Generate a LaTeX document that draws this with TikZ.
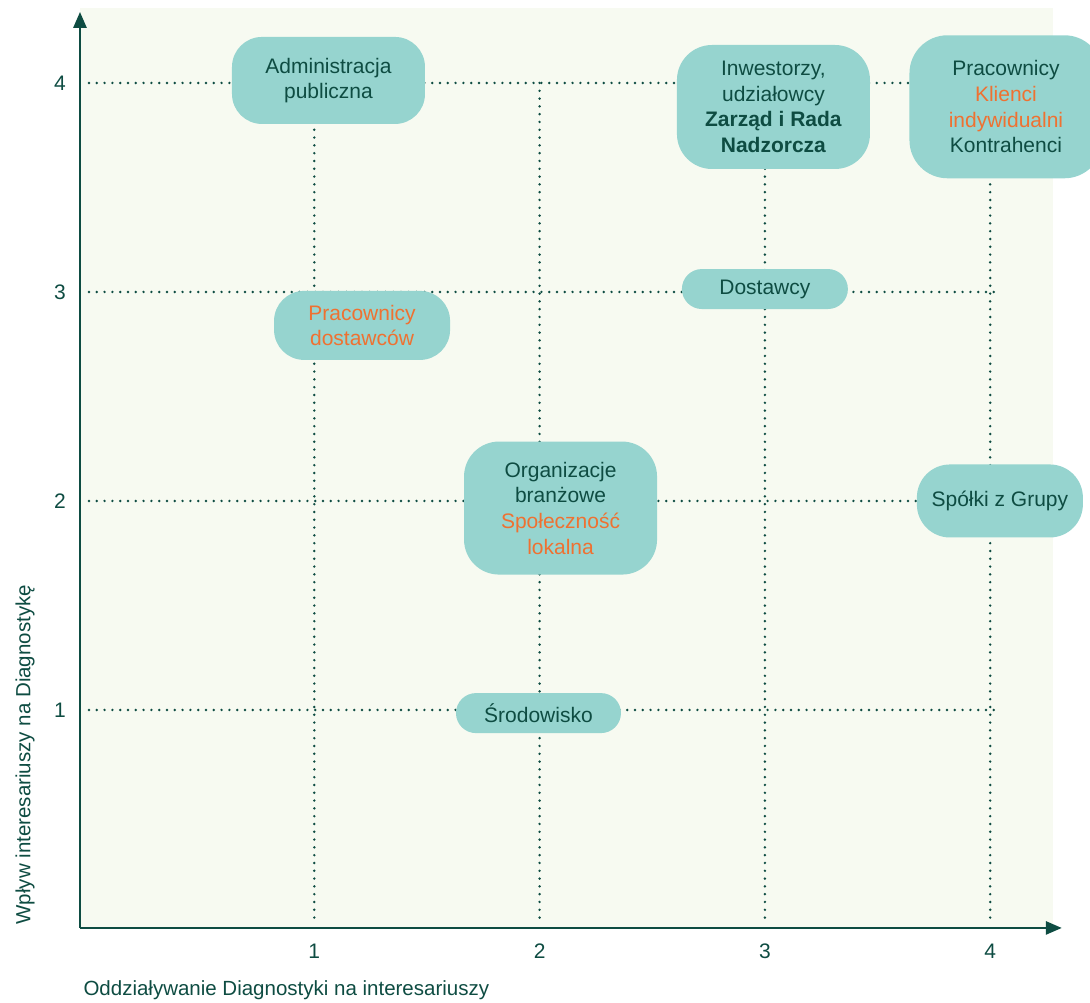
\documentclass[tikz,border=0pt]{standalone}
\usepackage{fontspec}
\setmainfont{Liberation Sans}
\usetikzlibrary{arrows.meta}

\definecolor{ciemny}{HTML}{0E4C42}
\definecolor{pomar}{HTML}{EF7131}
\definecolor{mieta}{HTML}{96D4CF}
\definecolor{tlo}{HTML}{F7FAF1}

\begin{document}
\begin{tikzpicture}[x=225.3pt,y=209pt,
  kropki/.style={ciemny,line width=2.7pt,line cap=round,dash pattern=on 0pt off 7.8pt},
  os/.style={ciemny,line width=2.6pt,-{Triangle[width=13pt,length=16pt]}},
  pole/.style={fill=mieta,text=ciemny,align=center,inner sep=0pt,font=\fontsize{21}{25.7}\selectfont},
  liczba/.style={text=ciemny,font=\fontsize{21}{25}\selectfont},
  opis/.style={text=ciemny,font=\fontsize{20.5}{25}\selectfont}]
\useasboundingbox (-0.395,-0.402) rectangle (4.443,4.397);
\fill[tlo] (-0.04,-0.043) rectangle (4.279,4.359);

% siatka
\foreach \i in {1,...,4} {
  \draw[kropki] (\i,4) -- (\i,-0.01);
  \draw[kropki] (0,\i) -- (4.02,\i);
}

% osie
\coordinate (poczatek) at (-0.04,-0.043);
\coordinate (gora) at (-0.04,4.34);
\coordinate (prawo) at (4.318,-0.043);
\draw[os] (poczatek) -- (gora);
\draw[os] (poczatek) -- (prawo);

\foreach \i in {1,...,4} {
  \node[liczba] (x\i) at (\i,-0.153) {\i};
  \node[liczba] (y\i) at (-0.129,\i) {\i};
}

\node[opis,anchor=west] (osx) at (-0.04,-0.340) {Oddziaływanie Diagnostyki na interesariuszy};
\node[opis,anchor=west,rotate=90] (osy) at (-0.284,-0.043) {Wpływ interesariuszy na Diagnostykę};

% interesariusze
\node[pole,minimum width=193pt,minimum height=87pt,rounded corners=30pt] (admin) at (1.063,4.012) {Administracja\\publiczna};
\node[pole,minimum width=193pt,minimum height=124pt,rounded corners=35pt] (inwest) at (3.038,3.885) {Inwestorzy,\\udziałowcy\\\textbf{Zarząd i Rada}\\\textbf{Nadzorcza}};
\node[pole,minimum width=193pt,minimum height=143pt,rounded corners=38pt] (klienci) at (4.070,3.886) {Pracownicy\\\textcolor{pomar}{Klienci}\\\textcolor{pomar}{indywidualni}\\Kontrahenci};
\node[pole,minimum width=166pt,minimum height=40pt,rounded corners=20pt] (dostawcy) at (3.000,3.014) {Dostawcy};
\node[pole,minimum width=176pt,minimum height=69pt,rounded corners=30pt] (pracdost) at (1.212,2.840) {\textcolor{pomar}{Pracownicy}\\\textcolor{pomar}{dostawców}};
\node[pole,minimum width=193pt,minimum height=133pt,rounded corners=35pt] (branza) at (2.093,1.966) {Organizacje\\branżowe\\\textcolor{pomar}{Społeczność}\\\textcolor{pomar}{lokalna}};
\node[pole,minimum width=166pt,minimum height=73pt,rounded corners=33pt] (spolki) at (4.043,2.000) {Spółki z Grupy};
\node[pole,minimum width=165pt,minimum height=40pt,rounded corners=20pt] (srodowisko) at (1.995,0.985) {Środowisko};
\end{tikzpicture}
\end{document}
